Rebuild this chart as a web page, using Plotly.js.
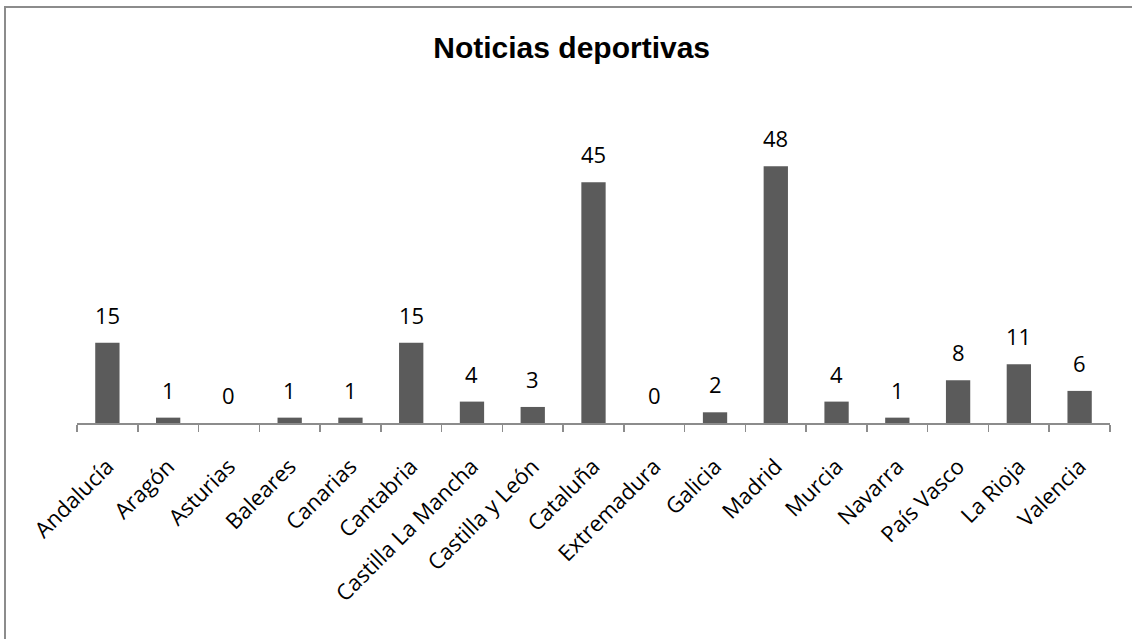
<!DOCTYPE html>
<html>
<head>
<meta charset="utf-8">
<script src="https://cdn.plot.ly/plotly-3.0.1.min.js"></script>
<style>
  html, body { margin: 0; padding: 0; background: #ffffff; overflow: hidden; }
  #wrap { position: relative; width: 1132px; height: 639px; overflow: hidden; }
  #chart { position: absolute; left: 0; top: 0; width: 1132px; height: 639px; }
  #frame { position: absolute; left: 4px; top: 6px; width: 1300px; height: 800px;
           border-left: 2px solid #8c8c8c; border-top: 2px solid #8c8c8c;
           pointer-events: none; box-sizing: border-box; }
</style>
</head>
<body>
<div id="wrap">
  <div id="chart"></div>
  <div id="frame"></div>
</div>
<script>
const categories = ["Andalucía", "Aragón", "Asturias", "Baleares", "Canarias", "Cantabria",
  "Castilla La Mancha", "Castilla y León", "Cataluña", "Extremadura", "Galicia", "Madrid",
  "Murcia", "Navarra", "País Vasco", "La Rioja", "Valencia"];
const values = [15, 1, 0, 1, 1, 15, 4, 3, 45, 0, 2, 48, 4, 1, 8, 11, 6];
const chartTitle = "Noticias deportivas";

const trace = {
  type: "bar",
  x: categories,
  y: values,
  marker: { color: "#5b5b5b", line: { width: 0 } },
  hoverinfo: "x+y"
};

const valueLabels = categories.map((c, i) => ({
  x: c,
  y: values[i],
  xref: "x",
  yref: "y",
  text: String(values[i]),
  showarrow: false,
  yanchor: "bottom",
  yshift: 11,
  font: { family: "Open Sans, sans-serif", size: 22, color: "#000000" }
}));

const layout = {
  width: 1132,
  height: 639,
  margin: { l: 77, r: 22, t: 102, b: 216 },
  paper_bgcolor: "#ffffff",
  plot_bgcolor: "#ffffff",
  showlegend: false,
  bargap: 0.6,
  title: {
    text: "<b>" + chartTitle + "</b>",
    font: { family: "Liberation Sans, Arial, sans-serif", size: 30, color: "#000000" },
    x: 0.505, xanchor: "center",
    y: 0.926, yanchor: "middle"
  },
  annotations: valueLabels,
  xaxis: {
    type: "category",
    showline: true,
    linecolor: "#8c8c8c",
    linewidth: 2,
    ticks: "outside",
    tickson: "boundaries",
    ticklen: 7,
    tickcolor: "#8c8c8c",
    tickwidth: 1.5,
    tickangle: -45,
    ticklabelstandoff: 20,
    tickfont: { family: "Open Sans, sans-serif", size: 22, color: "#000000" },
    showgrid: false,
    zeroline: false,
    automargin: false
  },
  yaxis: {
    range: [0, 60],
    visible: false,
    showgrid: false,
    zeroline: false
  }
};

Plotly.newPlot("chart", [trace], layout, { displayModeBar: false, staticPlot: true });
</script>
</body>
</html>
